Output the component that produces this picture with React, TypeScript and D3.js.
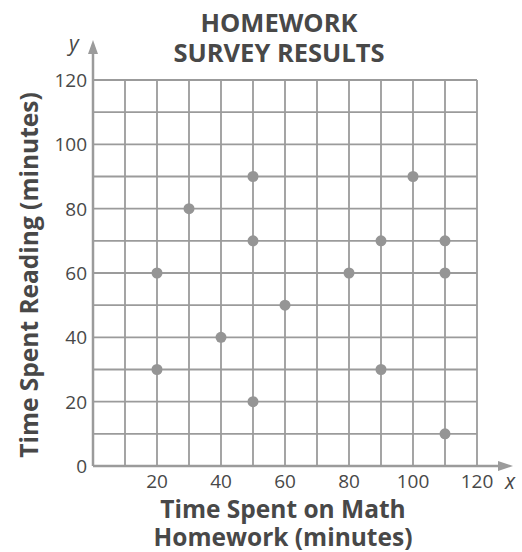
import React from "react";
import * as d3 from "d3";

const mathMinutes = [20, 20, 30, 40, 50, 50, 50, 60, 80, 90, 90, 100, 110, 110, 110];
const readingMinutes = [60, 30, 80, 40, 90, 70, 20, 50, 60, 70, 30, 90, 70, 60, 10];
const xTickLabels = [20, 40, 60, 80, 100, 120];
const yTickLabels = [0, 20, 40, 60, 80, 100, 120];
const gridValues = [10, 20, 30, 40, 50, 60, 70, 80, 90, 100, 110, 120];
const titleLines = ["HOMEWORK", "SURVEY RESULTS"];
const xTitleLines = ["Time Spent on Math", "Homework (minutes)"];
const yTitle = "Time Spent Reading (minutes)";

const W = 522;
const H = 552;
const GRID = "#9b9b9b";
const TEXT = "#484848";
const FONT = "'Open Sans', 'Noto Sans', sans-serif";

export default function App() {
  const x = d3.scaleLinear().domain([0, 120]).range([93, 477]);
  const y = d3.scaleLinear().domain([0, 120]).range([466, 80]);

  return (
    <svg width={W} height={H} style={{ position: "absolute", left: 0, top: 0, background: "#fff" }} fontFamily={FONT}>
      {/* title */}
      {titleLines.map((t, i) => (
        <text key={t} x={279} y={32 + i * 30} textAnchor="middle" fontWeight={700} fontSize={25.5} fill={TEXT}>
          {t}
        </text>
      ))}
      {/* grid */}
      {gridValues.map((v) => (
        <line key={"gx" + v} x1={x(v)} x2={x(v)} y1={y(0)} y2={y(120)} stroke={GRID} strokeWidth={1.8} />
      ))}
      {gridValues.map((v) => (
        <line key={"gy" + v} x1={x(0)} x2={x(120)} y1={y(v)} y2={y(v)} stroke={GRID} strokeWidth={1.8} />
      ))}
      {/* axes */}
      <line x1={x(0)} x2={x(0)} y1={y(0)} y2={50} stroke={GRID} strokeWidth={2.5} />
      <path d={`M${x(0) - 5},${54} L${x(0)},${40} L${x(0) + 5},${54} Z`} fill={GRID} />
      <line x1={x(0)} x2={500} y1={y(0)} y2={y(0)} stroke={GRID} strokeWidth={2.5} />
      <path d={`M${498},${y(0) - 5} L${513},${y(0)} L${498},${y(0) + 5} Z`} fill={GRID} />
      <text x={69} y={51} fontStyle="italic" fontSize={21} fill={TEXT}>y</text>
      <text x={505} y={489} fontStyle="italic" fontSize={21} fill={TEXT}>x</text>
      {/* ticks */}
      {yTickLabels.map((v) => (
        <text key={"yt" + v} x={87} y={y(v) + 7} textAnchor="end" fontSize={19} fill={TEXT}>
          {v}
        </text>
      ))}
      {xTickLabels.map((v) => (
        <text key={"xt" + v} x={x(v)} y={488} textAnchor="middle" fontSize={19} fill={TEXT}>
          {v}
        </text>
      ))}
      {/* axis titles */}
      {xTitleLines.map((t, i) => (
        <text key={t} x={283} y={518 + i * 28} textAnchor="middle" fontWeight={700} fontSize={24.5} fill={TEXT}>
          {t}
        </text>
      ))}
      <text transform={`translate(38,${275}) rotate(-90)`} textAnchor="middle" fontWeight={700} fontSize={24.5} fill={TEXT}>
        {yTitle}
      </text>
      {/* points */}
      {mathMinutes.map((m, i) => (
        <circle key={"p" + i} cx={x(m)} cy={y(readingMinutes[i])} r={5.5} fill="#959595" />
      ))}
    </svg>
  );
}
